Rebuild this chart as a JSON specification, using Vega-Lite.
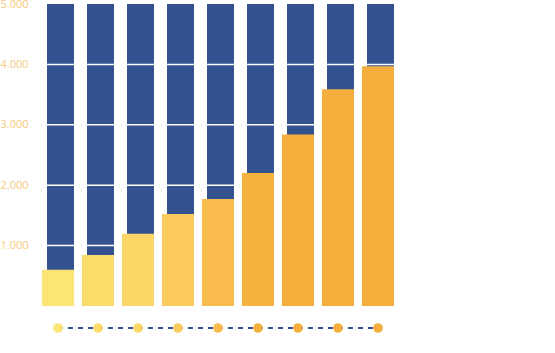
{
  "$schema": "https://vega.github.io/schema/vega-lite/v6.json",
  "background": "white",
  "padding": {"left": 0, "top": -2, "right": 155, "bottom": 0},
  "config": {"view": {"stroke": null}, "concat": {"spacing": 12}, "font": "Open Sans"},
  "datasets": {
    "bars": [
      {"idx": 1, "value": 600, "total": 5000},
      {"idx": 2, "value": 845, "total": 5000},
      {"idx": 3, "value": 1195, "total": 5000},
      {"idx": 4, "value": 1525, "total": 5000},
      {"idx": 5, "value": 1770, "total": 5000},
      {"idx": 6, "value": 2200, "total": 5000},
      {"idx": 7, "value": 2840, "total": 5000},
      {"idx": 8, "value": 3590, "total": 5000},
      {"idx": 9, "value": 3970, "total": 5000}
    ],
    "grid": [{"g": 1000}, {"g": 2000}, {"g": 3000}, {"g": 4000}]
  },
  "vconcat": [
    {
      "width": 360,
      "height": 302,
      "layer": [
        {
          "data": {"name": "bars"},
          "mark": {"type": "bar", "width": 27, "xOffset": 0.5, "color": "#34528F"},
          "encoding": {
            "x": {"field": "idx", "type": "ordinal", "scale": {"paddingInner": 0, "paddingOuter": 0}, "axis": null},
            "y": {
              "field": "total", "type": "quantitative",
              "scale": {"domain": [0, 5000]},
              "axis": {
                "values": [1000, 2000, 3000, 4000, 5000],
                "ticks": false, "domain": false, "grid": false,
                "labelAlign": "left", "labelPadding": 40,
                "labelColor": "#F7C97E", "labelFontSize": 11, "labelFont": "Open Sans",
                "labelExpr": "replace(format(datum.value, ','), ',', '.')",
                "title": null
              }
            }
          }
        },
        {
          "data": {"name": "grid"},
          "mark": {"type": "rule", "color": "white", "strokeWidth": 1.5},
          "encoding": {"y": {"field": "g", "type": "quantitative"}}
        },
        {
          "data": {"name": "bars"},
          "mark": {"type": "bar", "width": 32, "xOffset": -2},
          "encoding": {
            "x": {"field": "idx", "type": "ordinal"},
            "y": {"field": "value", "type": "quantitative"},
            "color": {
              "field": "idx", "type": "ordinal", "legend": null,
              "scale": {"range": ["#FBE675", "#FBDD6C", "#FCD667", "#FBCB5D", "#F9BB4E", "#F4B23E", "#F4AF3C", "#F4AF3C", "#F4AF3C"]}
            }
          }
        }
      ]
    },
    {
      "width": 360,
      "height": 20,
      "data": {"name": "bars"},
      "layer": [
        {
          "mark": {"type": "line", "color": "#34528F", "strokeWidth": 2, "strokeDash": [5, 5], "xOffset": -2},
          "encoding": {
            "x": {"field": "idx", "type": "ordinal", "scale": {"paddingInner": 0, "paddingOuter": 0}, "axis": null}
          }
        },
        {
          "mark": {"type": "point", "filled": true, "size": 95, "opacity": 1, "xOffset": -2},
          "encoding": {
            "x": {"field": "idx", "type": "ordinal"},
            "color": {
              "field": "idx", "type": "ordinal", "legend": null,
              "scale": {"range": ["#FBE675", "#FBDD6C", "#FCD667", "#FBCB5D", "#F9BB4E", "#F4B23E", "#F4AF3C", "#F4AF3C", "#F4AF3C"]}
            }
          }
        }
      ]
    }
  ]
}
